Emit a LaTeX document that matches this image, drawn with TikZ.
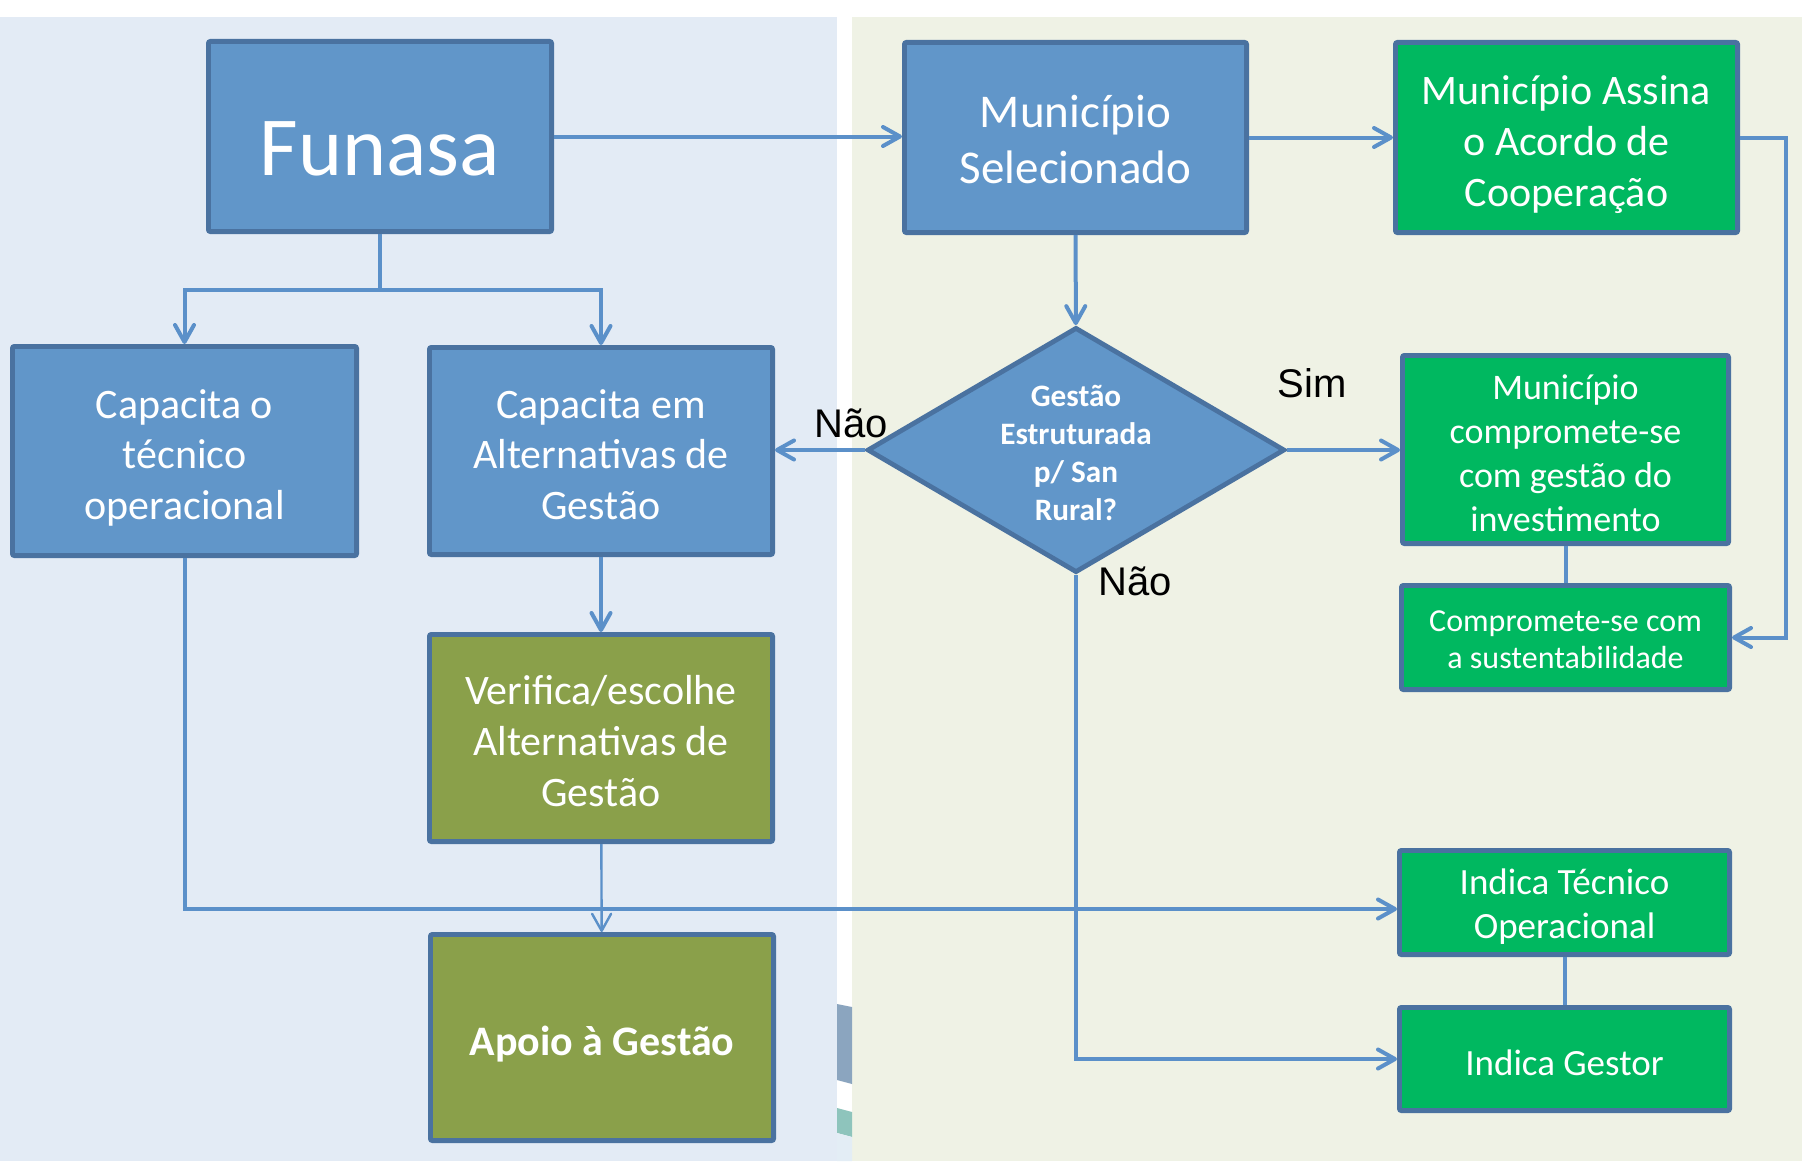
\documentclass[tikz,border=0pt]{standalone}
\usepackage{fontspec}
\setmainfont{Carlito}
\newfontfamily\arialfont{Liberation Sans}
\usetikzlibrary{arrows.meta,shapes.geometric}
\definecolor{fundoazul}{HTML}{E3EBF5}
\definecolor{fundoverde}{HTML}{EFF2E5}
\definecolor{azulcaixa}{HTML}{6196C9}
\definecolor{bordacaixa}{HTML}{4A72A0}
\definecolor{verdecaixa}{HTML}{00B860}
\definecolor{olivacaixa}{HTML}{8AA04A}
\definecolor{corlinha}{HTML}{5B90C9}
\definecolor{faixacinza}{HTML}{8BA5BF}
\definecolor{faixaverde}{HTML}{8EC4BC}
\definecolor{faixaclara}{HTML}{E3EDF5}
\newcommand{\folga}[2][3.5pt]{\raisebox{0pt}[\dimexpr\height+#1\relax]{#2}}
\begin{document}
\begin{tikzpicture}[x=0.5pt,y=-0.5pt,
  caixa/.style={draw=bordacaixa, line width=2.4pt, rounded corners=1pt, text=white, align=center, inner sep=0pt, text depth=0pt},
  azul/.style={caixa, fill=azulcaixa},
  verde/.style={caixa, fill=verdecaixa},
  oliva/.style={caixa, fill=olivacaixa},
  liga/.style={draw=corlinha, line width=2pt},
  seta/.style={liga, -{Straight Barb[length=8.5pt,width=9.5pt,round]}},
  rotulo/.style={font=\arialfont\fontsize{20}{24}\selectfont, anchor=base}]
\useasboundingbox (0,0) rectangle (1802,1161);
\fill[white] (0,0) rectangle (1802,1161);
\fill[fundoazul] (0,17) rectangle (837,1161);
\fill[fundoverde] (852,17) rectangle (1802,1161);
\fill[faixacinza] (837,1004) -- (852,1007) -- (852,1084) -- (837,1080) -- cycle;
\fill[faixaverde] (837,1108) -- (852,1112) -- (852,1137) -- (837,1133) -- cycle;
\fill[faixaclara] (837,1133) -- (852,1137) -- (852,1161) -- (837,1161) -- cycle;

\node[azul, minimum width=171.6pt, minimum height=95.1pt, text height=38.6pt, font=\fontsize{42}{50}\selectfont] (funasa) at (380,136.5) {Funasa};
\node[azul, minimum width=172.1pt, minimum height=104.6pt, font=\fontsize{21}{25.3}\selectfont] (capop) at (184.5,451) {\folga{Capacita o}\\técnico\\operacional};
\node[azul, minimum width=171.6pt, minimum height=103.6pt, font=\fontsize{21}{25.3}\selectfont] (capalt) at (601,451) {\folga{Capacita em}\\Alternativas de\\Gestão};
\node[oliva, minimum width=171.6pt, minimum height=103.6pt, font=\fontsize{21}{25.3}\selectfont] (verifica) at (601,738) {\folga[2.9pt]{Verifica/escolhe}\\Alternativas de\\Gestão};
\node[oliva, minimum width=171.6pt, minimum height=103.1pt, font=\bfseries\fontsize{21}{25.3}\selectfont] (apoio) at (602,1037.5) {\folga{Apoio à Gestão}};

\node[azul, minimum width=171.1pt, minimum height=95.1pt, font=\fontsize{23.5}{28}\selectfont] (munsel) at (1075.5,137.5) {\folga[2.3pt]{Município}\\Selecionado};
\node[verde, minimum width=171.1pt, minimum height=95.1pt, font=\fontsize{21}{25.3}\selectfont] (assina) at (1566.5,137.5) {\folga{Município Assina}\\o Acordo de\\Cooperação};
\node[diamond, draw=bordacaixa, line width=2.4pt, fill=azulcaixa, inner sep=0pt, minimum width=208.8pt, minimum height=122.6pt] (decisao) at (1076,450) {};
\node[text=white, align=center, font=\bfseries\fontsize{15.6}{19}\selectfont] (decisaotxt) at (1076,452.5) {Gestão\\Estruturada\\p/ San\\Rural?};
\node[verde, minimum width=163.1pt, minimum height=94.1pt, font=\fontsize{18}{22}\selectfont] (compromete) at (1565.5,449.5) {\folga{Município}\\compromete-se\\com gestão do\\investimento};
\node[verde, minimum width=164.1pt, minimum height=52.1pt, font=\fontsize{16}{18.8}\selectfont] (sustent) at (1565.5,637.5) {\folga[2.3pt]{Compromete-se com}\\a sustentabilidade};
\node[verde, minimum width=165.1pt, minimum height=52.1pt, font=\fontsize{18.5}{21.7}\selectfont] (indtec) at (1564.5,902.5) {\folga[1.2pt]{Indica Técnico}\\Operacional};
\node[verde, minimum width=165.1pt, minimum height=51.6pt, font=\fontsize{18.5}{21.7}\selectfont] (indgest) at (1564.5,1059) {\folga{Indica Gestor}};

\node[rotulo] (naoesq) at (851,437) {Não};
\node[rotulo] (sim) at (1312,397) {Sim};
\node[rotulo] (naobaixo) at (1135,595) {Não};

\coordinate (ramo) at (380,290);
\coordinate (cruza) at (602,909);
\draw[seta] (funasa.east) -- (funasa.east -| munsel.west);
\draw[seta] (munsel) -- (assina);
\draw[liga] (funasa) -- (ramo);
\draw[seta] (ramo) -| (capop);
\draw[seta] (ramo) -| (capalt);
\draw[seta] (munsel) -- (decisao);
\draw[seta] (decisao.west) -- (decisao.west -| capalt.east);
\draw[seta] (decisao.east) -- (decisao.east -| compromete.west);
\draw[seta] (decisao.south) |- (indgest.west);
\draw[seta] (capalt) -- (verifica);
\draw[seta] (capop.south) |- (cruza) -- (cruza -| indtec.west);
\draw[seta, line width=1.2pt] (verifica) -- (apoio);
\draw[liga] (compromete) -- (sustent);
\draw[liga] (indtec) -- (indgest);
\draw[seta] (assina.east) -- ++(46,0) |- (sustent.east);
\end{tikzpicture}
\end{document}
